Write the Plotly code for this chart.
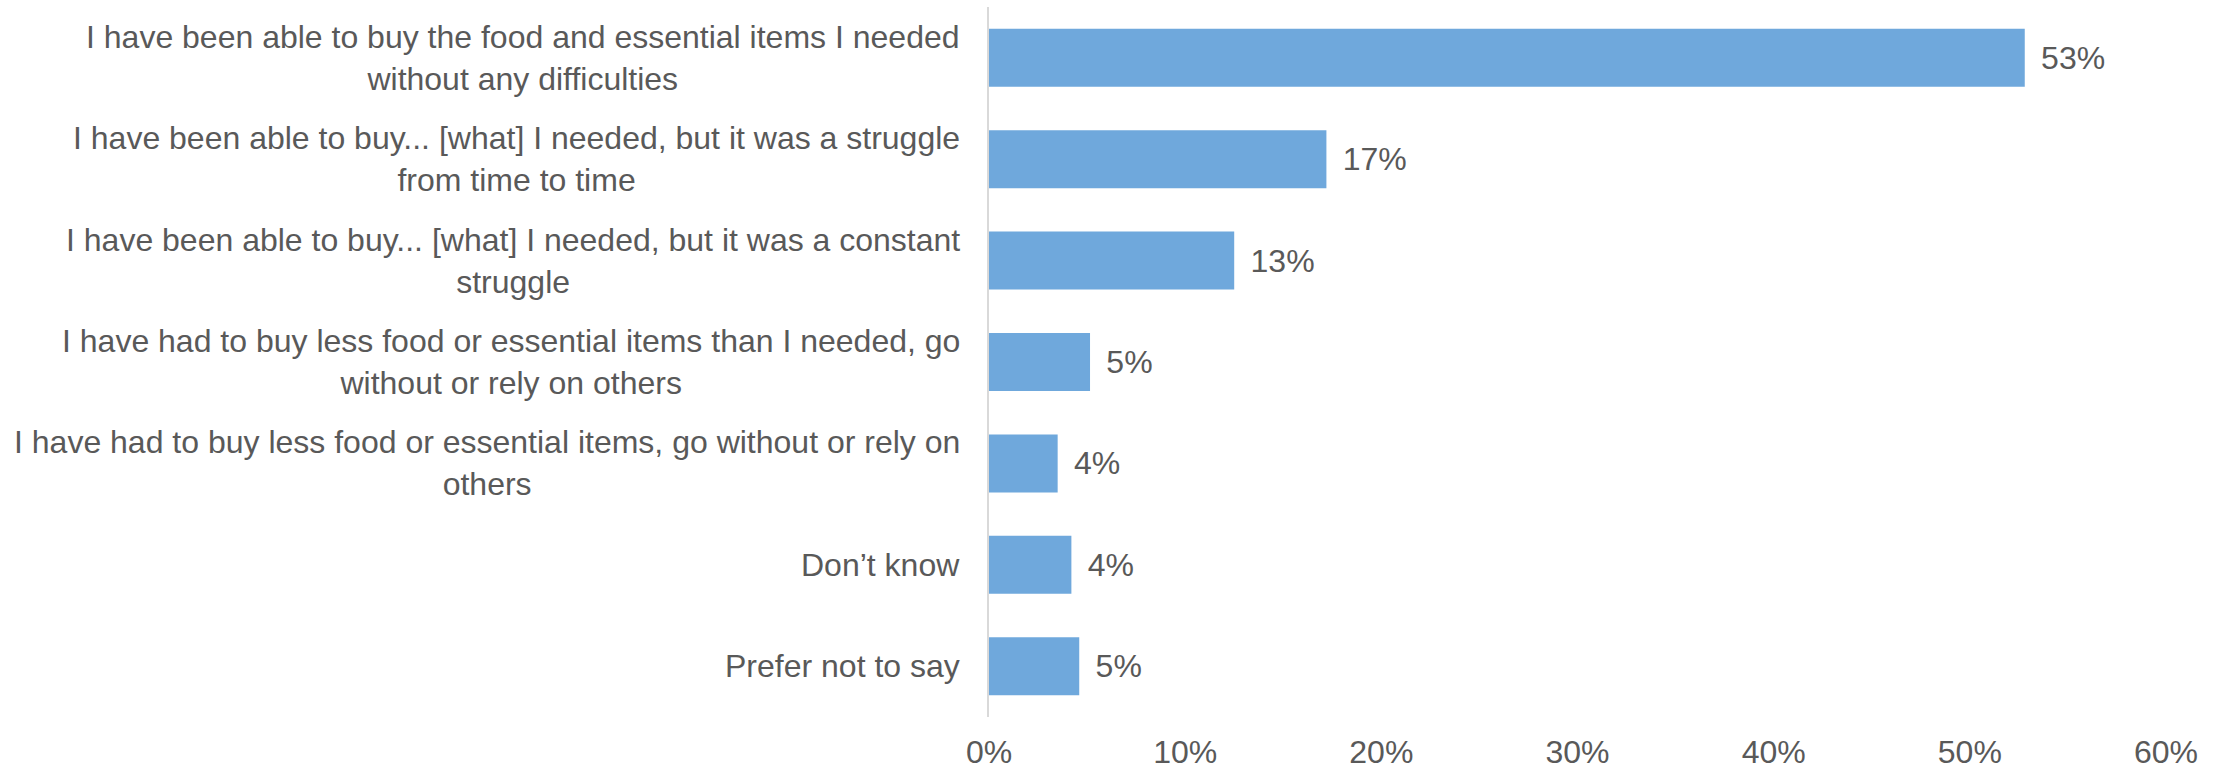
import plotly.graph_objects as go

categories = [
    "I have been able to buy the food and essential items I needed<br>without any difficulties",
    "I have been able to buy... [what] I needed, but it was a struggle<br>from time to time",
    "I have been able to buy... [what] I needed, but it was a constant<br>struggle",
    "I have had to buy less food or essential items than I needed, go<br>without or rely on others",
    "I have had to buy less food or essential items, go without or rely on<br>others",
    "Don’t know",
    "Prefer not to say",
]
values = [0.528, 0.172, 0.125, 0.0515, 0.035, 0.042, 0.046]
x_ticks = [0, 0.1, 0.2, 0.3, 0.4, 0.5, 0.6]

FONT = "Liberation Sans, Arial, sans-serif"
GRAY = "#595959"
FS = 32

fig = go.Figure()
fig.add_trace(go.Bar(
    y=categories,
    x=values,
    orientation="h",
    marker=dict(color="#6FA8DC", line=dict(width=0)),
    width=0.572,
    texttemplate="\u2004\u200a%{x:.0%}",
    textposition="outside",
    textfont=dict(family=FONT, size=FS, color=GRAY),
    cliponaxis=False,
    hoverinfo="skip",
))

for cat in categories:
    fig.add_annotation(
        x=0, xref="paper", y=cat, yref="y",
        text=cat, showarrow=False,
        xanchor="right", yanchor="middle", align="center",
        xshift=-27,
        font=dict(family=FONT, size=FS, color=GRAY),
    )

fig.update_layout(
    width=2226, height=771,
    margin=dict(l=989, r=60, t=7, b=54, autoexpand=False),
    paper_bgcolor="white",
    plot_bgcolor="white",
    showlegend=False,
    font=dict(family=FONT, size=FS, color=GRAY),
    xaxis=dict(
        range=[0, 0.6],
        tickvals=x_ticks,
        tickformat=".0%",
        showgrid=False,
        zeroline=False,
        showline=False,
        ticks="",
        automargin=False,
        ticklabelstandoff=13,
        tickfont=dict(family=FONT, size=FS, color=GRAY),
    ),
    yaxis=dict(
        autorange="reversed",
        showticklabels=False,
        showgrid=False,
        zeroline=False,
        showline=True,
        automargin=False,
        linecolor="#D9D9D9",
        linewidth=2,
        ticks="",
    ),
)

fig.write_html(
    "out.html",
    config={"displayModeBar": False},
    post_script="document.body.style.margin='0';document.body.style.overflow='hidden';",
)
